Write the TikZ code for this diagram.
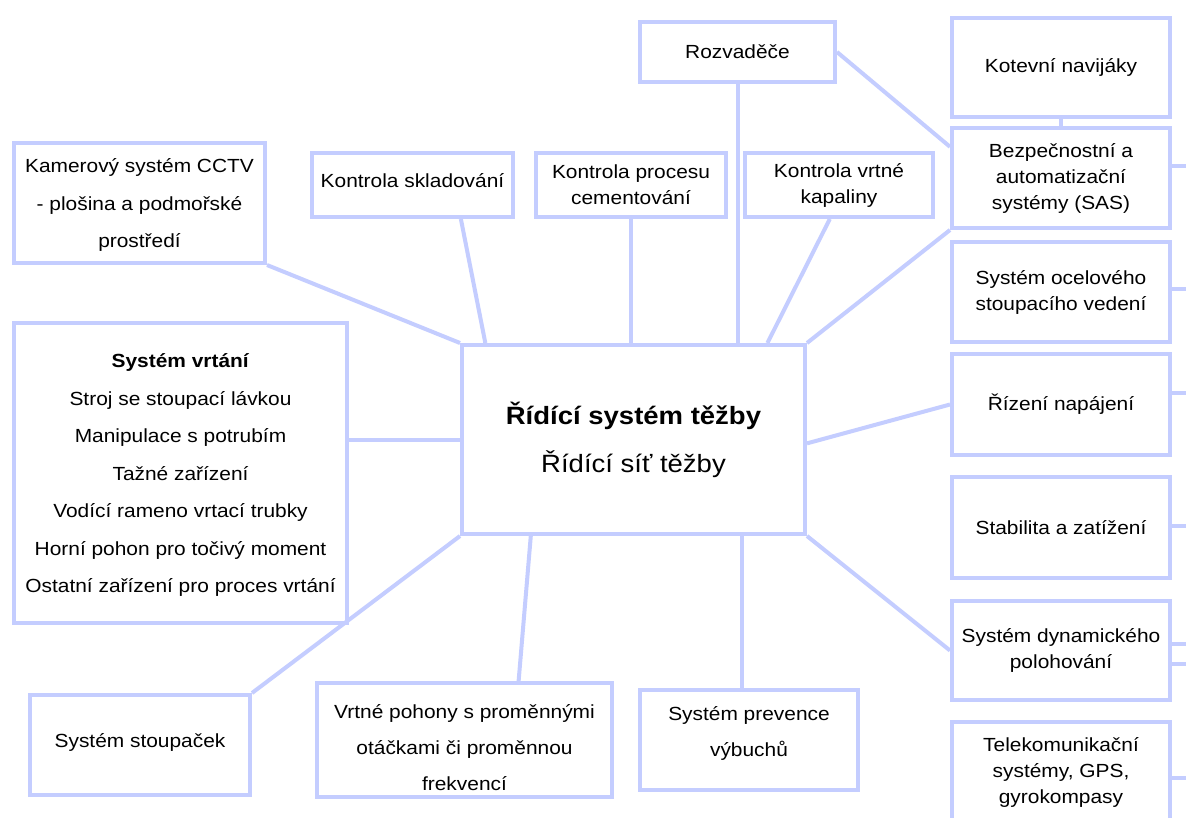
\documentclass[tikz,border=0pt]{standalone}
\usepackage{fontspec}
\setmainfont{Liberation Sans}[FakeStretch=1.1]
\usetikzlibrary{calc}
\definecolor{lav}{RGB}{196,205,255}
\begin{document}
\begin{tikzpicture}[x=1pt,y=-1pt,
  bx/.style={draw=lav, line width=4pt, fill=white, inner sep=0pt, align=center,
     font=\fontsize{19}{26}\selectfont},
  wide/.style={font=\fontsize{19}{37.5}\selectfont},
  mid/.style={font=\fontsize{19}{36}\selectfont},
  big/.style={font=\fontsize{25}{48}\selectfont},
  ln/.style={draw=lav, line width=4pt}]
\clip (0,0) rectangle (1186,817);
\fill[white] (0,0) rectangle (1186,817);
% right column
\node[bx, minimum width=195pt, minimum height=60pt] (rozv) at (737.5,52) {Rozvaděče};
\node[bx, minimum width=218pt, minimum height=99pt] (kotev) at (1061,67.5) {Kotevní navijáky};
\node[bx, minimum width=218pt, minimum height=100pt] (sas) at (1061,178) {Bezpečnostní a\\automatizační\\systémy (SAS)};
\node[bx, minimum width=218pt, minimum height=100pt] (ocel) at (1061,292) {Systém ocelového\\stoupacího vedení};
\node[bx, minimum width=218pt, minimum height=101pt] (rizeni) at (1061,404.5) {Řízení napájení};
\node[bx, minimum width=218pt, minimum height=101pt] (stab) at (1061,527.5) {Stabilita a zatížení};
\node[bx, minimum width=218pt, minimum height=99pt] (dyn) at (1061,650.5) {Systém dynamického\\polohování};
\node[bx, minimum width=218pt, minimum height=100pt] (tele) at (1061,772) {Telekomunikační\\systémy, GPS,\\gyrokompasy};
% top row
\node[bx, wide, minimum width=251pt, minimum height=120pt] (kam) at (139.5,203) {\rule{0pt}{18pt}Kamerový systém CCTV\\- plošina a podmořské\\prostředí};
\node[bx, minimum width=201pt, minimum height=64pt] (sklad) at (412.5,185) {Kontrola skladování\rule[-8pt]{0pt}{1pt}};
\node[bx, minimum width=190pt, minimum height=64pt] (cem) at (631,185) {Kontrola procesu\\cementování};
\node[bx, minimum width=188pt, minimum height=64pt] (kap) at (839,185) {Kontrola vrtné\\kapaliny};
% centre
\node[bx, big, minimum width=343pt, minimum height=189pt] (central) at (633.5,439.5) {\rule{0pt}{24pt}\textbf{Řídící systém těžby}\\Řídící síť těžby};
% left
\node[bx, wide, minimum width=333pt, minimum height=300pt] (vrt) at (180.5,473) {\rule{0pt}{18pt}\textbf{Systém vrtání}\\Stroj se stoupací lávkou\\Manipulace s potrubím\\Tažné zařízení\\Vodící rameno vrtací trubky\\Horní pohon pro točivý moment\\Ostatní zařízení pro proces vrtání};
% bottom
\node[bx, minimum width=220pt, minimum height=100pt] (stoup) at (140,745) {Systém stoupaček\rule[-9pt]{0pt}{1pt}};
\node[bx, mid, minimum width=295pt, minimum height=114pt] (poh) at (464.5,740) {\rule{0pt}{30pt}Vrtné pohony s proměnnými\\otáčkami či proměnnou\\frekvencí};
\node[bx, mid, minimum width=218pt, minimum height=100pt] (prev) at (749,740) {Systém prevence\\výbuchů\rule[-17pt]{0pt}{1pt}};
% connectors
\draw[ln] (kam.south east) -- (central.north west);
\draw[ln] ($(sklad.south west)!0.736!(sklad.south east)$) -- ($(central.north west)!0.073!(central.north east)$);
\draw[ln] (cem.south) -- (cem.south |- central.north);
\draw[ln] (rozv.south) -- (rozv.south |- central.north);
\draw[ln] ($(kap.south west)!0.452!(kap.south east)$) -- ($(central.north west)!0.886!(central.north east)$);
\draw[ln] (sas.south west) -- (central.north east);
\draw[ln] (rozv.east) -- ($(sas.north west)!0.2!(sas.south west)$);
\draw[ln] (kotev.south) -- (sas.north);
\draw[ln] ($(central.north east)!0.52!(central.south east)$) -- (rizeni.west);
\draw[ln] (central.south east) -- (dyn.west);
\coordinate (pt) at ($(prev.north west)!0.468!(prev.north east)$);
\draw[ln] (pt) -- (pt |- central.south);
\draw[ln] ($(poh.north west)!0.681!(poh.north east)$) -- ($(central.south west)!0.204!(central.south east)$);
\draw[ln] (stoup.north east) -- (central.south west);
\draw[ln] (central.west) -- (central.west -| vrt.east);
% stubs to the right edge
\coordinate (s1) at (1186,166);
\coordinate (s2) at (1186,289);
\coordinate (s3) at (1186,393);
\coordinate (s4) at (1186,526);
\coordinate (s5) at (1186,644);
\coordinate (s6) at (1186,664);
\coordinate (s7) at (1186,778);
\draw[ln] (s1 -| sas.east) -- (s1);
\draw[ln] (s2 -| ocel.east) -- (s2);
\draw[ln] (s3 -| rizeni.east) -- (s3);
\draw[ln] (s4 -| stab.east) -- (s4);
\draw[ln] (s5 -| dyn.east) -- (s5);
\draw[ln] (s6 -| dyn.east) -- (s6);
\draw[ln] (s7 -| tele.east) -- (s7);
\end{tikzpicture}
\end{document}
